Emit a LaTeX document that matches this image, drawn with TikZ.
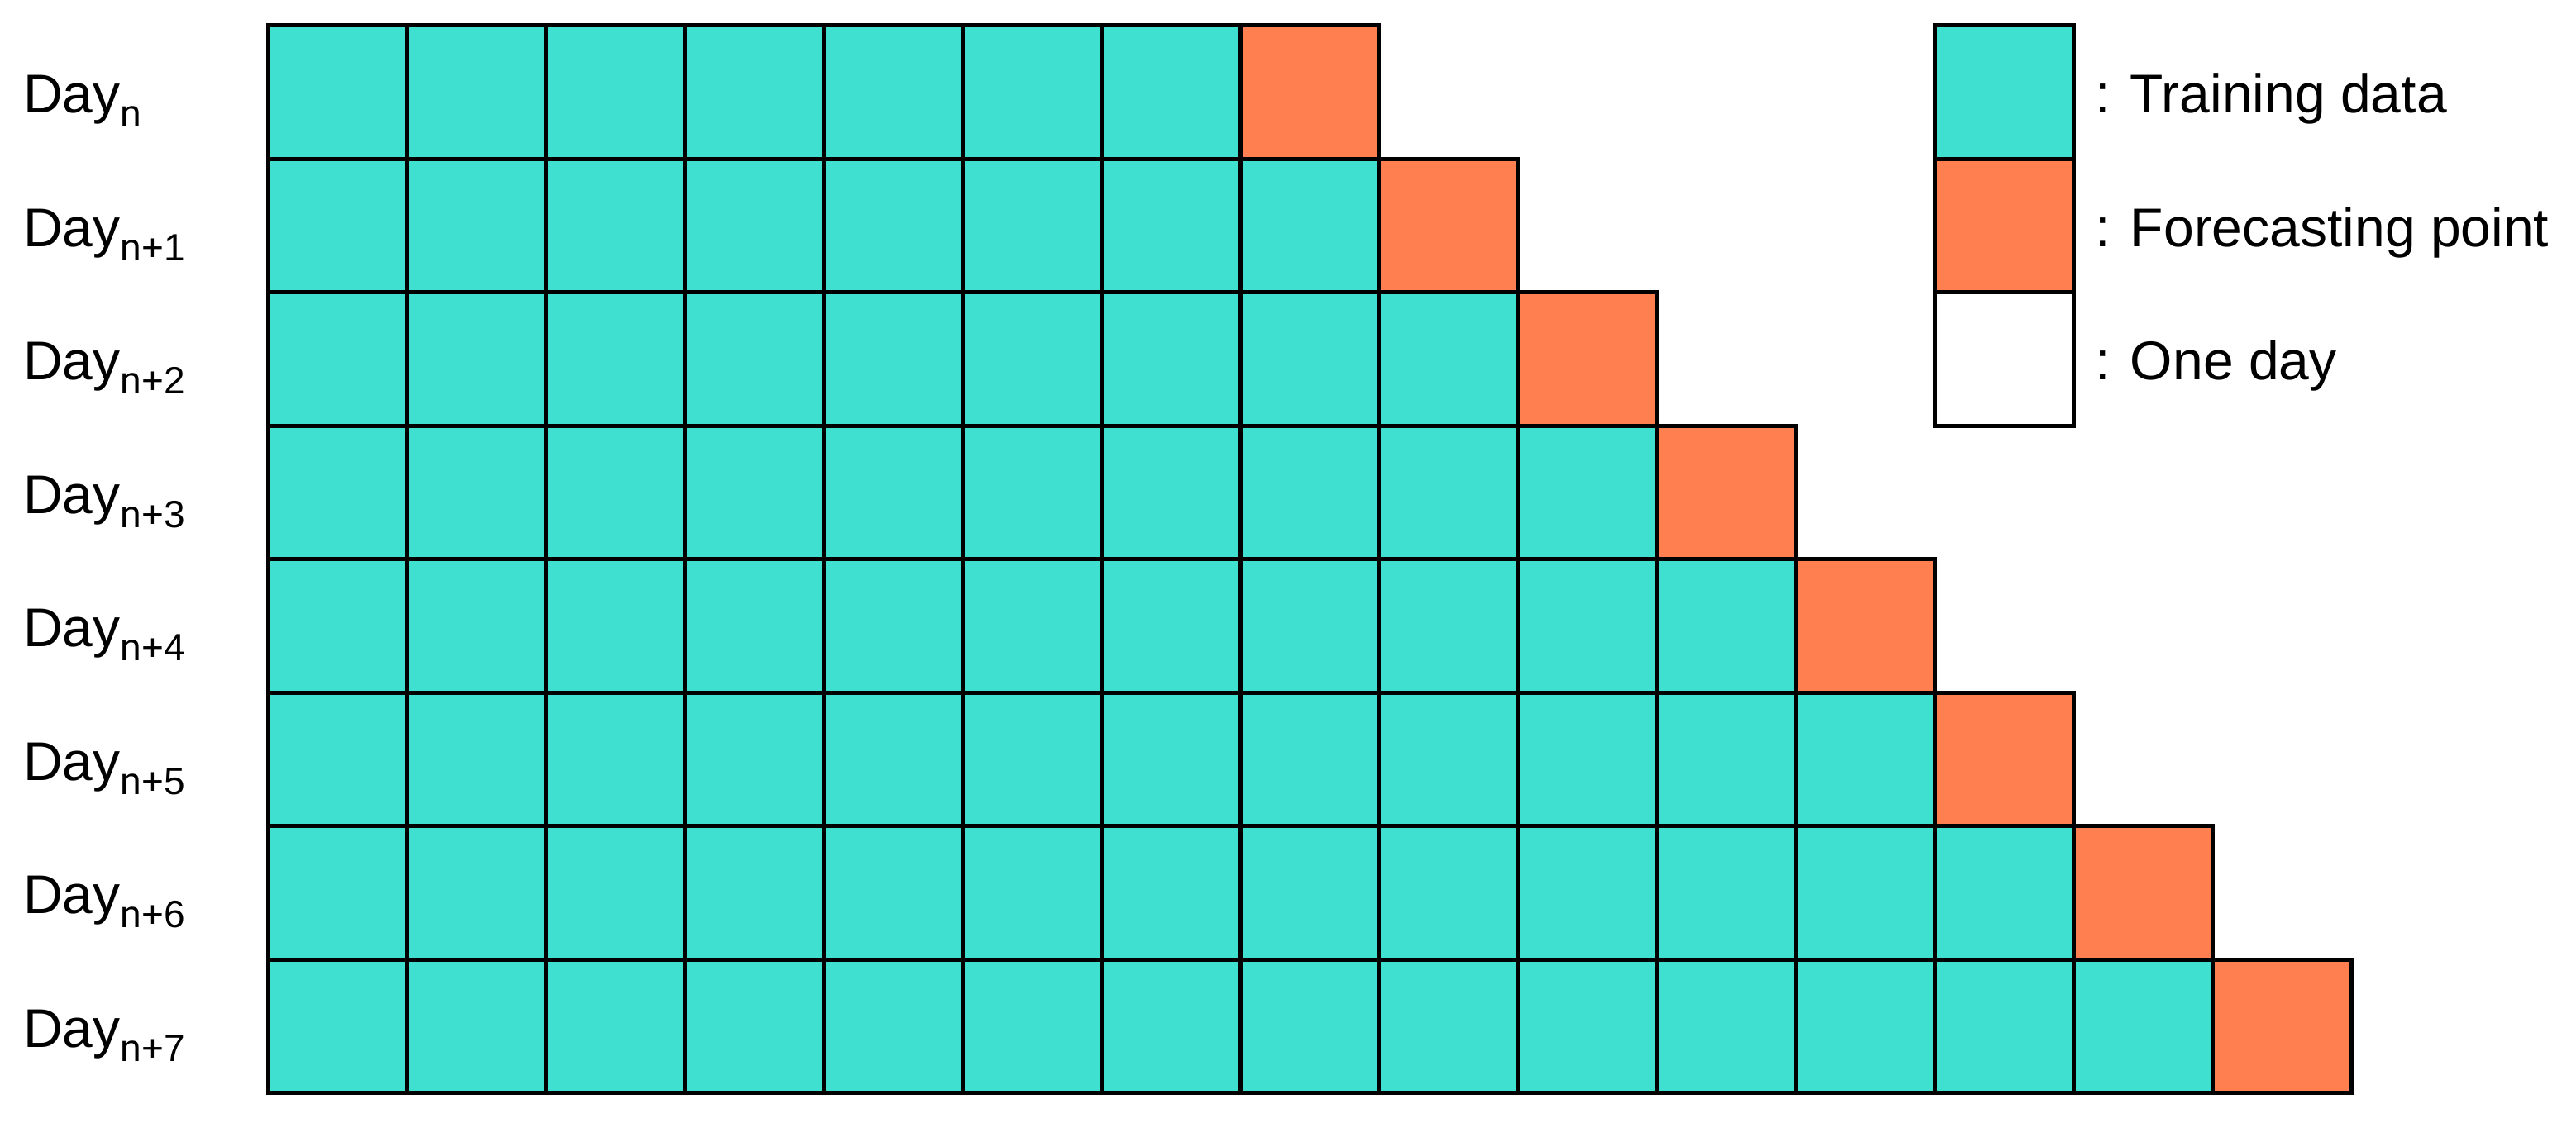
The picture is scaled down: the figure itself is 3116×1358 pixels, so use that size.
\documentclass[tikz,border=0pt]{standalone}
\usepackage{fontspec}
\setmainfont{Liberation Sans}
\definecolor{train}{HTML}{40E0D0}
\definecolor{fore}{HTML}{FF7F50}
\begin{document}
\begin{tikzpicture}[x=1pt,y=-1pt,
  cell/.style={draw=black, line width=5pt, minimum width=168pt, minimum height=161.5pt, inner sep=0pt, anchor=north west},
  lbl/.style={anchor=base west, inner sep=0pt, font=\fontsize{66}{79}\selectfont}]
\useasboundingbox (0,0) rectangle (3116,1358);
\foreach \r/\s in {0/n,1/n+1,2/n+2,3/n+3,4/n+4,5/n+5,6/n+6,7/n+7} {
  \pgfmathtruncatemacro\last{7+\r}
  \foreach \c in {0,...,\last} {
    \ifnum\c<\last \def\cc{train}\else\def\cc{fore}\fi
    \node[cell, fill=\cc] (cell-\r-\c) at ({322+168*\c},{28+161.5*\r}) {};
  }
  \node[lbl] (day-\r) at (28,{28+161.5*\r+80.75+28}) {Day\raisebox{-17pt}{\fontsize{46}{50}\selectfont \s}};
}
\node[cell, fill=train] (leg-train) at (2338,28) {};
\node[cell, fill=fore] (leg-fore) at (2338,189.5) {};
\node[cell, fill=white] (leg-day) at (2338,351) {};
\node[lbl] (txt-train) at (2534,{28+80.75+28}) {: Training data};
\node[lbl] (txt-fore) at (2534,{189.5+80.75+28}) {: Forecasting point};
\node[lbl] (txt-day) at (2534,{351+80.75+28}) {: One day};
\end{tikzpicture}
\end{document}
